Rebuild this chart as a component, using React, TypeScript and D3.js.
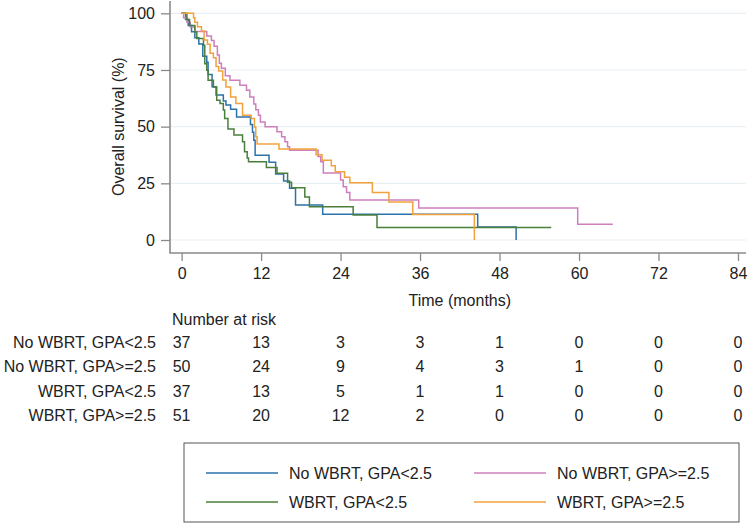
import * as d3 from "d3";
import { useEffect, useRef } from "react";

type Step = [number, number];

// Kaplan-Meier steps: [months, survival %], value holds from that time on
const noWbrtLow: Step[] = [
  [0, 100], [0.6, 97.3], [1.0, 94.6], [1.5, 91.9], [2.0, 89.2], [2.6, 86.5],
  [3.2, 81.1], [3.8, 78.4], [4.0, 73.0], [4.6, 67.6], [5.2, 64.0], [6.3, 61.3],
  [6.7, 59.5], [7.4, 57.7], [8.3, 54.3], [10.4, 51.0], [10.7, 47.5], [10.9, 44.0],
  [11.1, 37.4], [13.2, 34.3], [14.2, 29.1], [15.4, 26.0], [16.3, 22.8], [17.2, 15.4],
  [21.3, 11.4], [44.7, 5.7], [50.5, 0],
];
const noWbrtHigh: Step[] = [
  [0, 100], [0.3, 98], [0.8, 96], [1.3, 94], [2.0, 92], [3.8, 90], [4.5, 88],
  [4.9, 85.5], [5.4, 81.6], [5.7, 78], [6.0, 75.8], [6.6, 72.5], [7.3, 70.5],
  [8.8, 68.3], [9.8, 66.1], [10.3, 63.1], [10.9, 60], [11.2, 57.5], [11.6, 55],
  [11.9, 52.1], [12.6, 50.0], [14.4, 47.7], [15.1, 45.5], [15.6, 43.3], [16.0, 41.1],
  [16.3, 39.6], [20.6, 36.8], [21.0, 34.5], [21.4, 29.6], [24.0, 26.5], [24.4, 23.5],
  [24.9, 21.0], [25.4, 17.6], [35.8, 14.1], [59.8, 7.0], [65.1, 7.0],
];
const wbrtLow: Step[] = [
  [0, 100], [0.8, 97.3], [1.2, 94.6], [2.0, 91.8], [2.3, 88.9], [3.3, 85.9],
  [3.5, 77.8], [3.8, 74.9], [4.0, 70.5], [4.8, 67.5], [5.3, 61.7], [5.8, 60.2],
  [6.3, 57.3], [6.5, 53.6], [7.0, 49.0], [7.9, 46.3], [9.2, 43.3], [9.5, 38.9],
  [9.9, 36.2], [10.1, 34.5], [12.8, 32.0], [14.4, 29.4], [16.0, 25.5], [16.6, 23.0],
  [18.6, 19.0], [19.3, 14.7], [25.9, 11.0], [29.5, 5.5], [55.8, 5.5],
];
const wbrtHigh: Step[] = [
  [0, 100], [1.8, 98.0], [2.0, 96.1], [2.4, 94.1], [3.0, 92.2], [3.4, 88.2],
  [3.9, 86.3], [4.3, 82.4], [4.8, 80.4], [5.2, 76.5], [5.6, 74.5], [6.2, 70.6],
  [6.7, 67.5], [7.4, 63.1], [8.2, 60.2], [9.2, 55.0], [10.5, 53.6], [11.0, 49.9],
  [11.2, 45.5], [11.4, 42.3], [14.7, 40.1], [20.3, 37.6], [21.2, 35.2], [22.6, 32.7],
  [23.2, 30.1], [24.6, 27.7], [25.4, 25.2], [28.8, 21.0], [31.3, 16.8], [34.9, 11.2],
  [44.2, 0],
];

const seriesLabels = [
  "No WBRT, GPA<2.5",
  "No WBRT, GPA>=2.5",
  "WBRT, GPA<2.5",
  "WBRT, GPA>=2.5",
];
const seriesColors = ["#2b72ab", "#cd7fbd", "#4a7f3b", "#f0a23c"];
const seriesData = [noWbrtLow, noWbrtHigh, wbrtLow, wbrtHigh];

const yTicks = [0, 25, 50, 75, 100];
const xTicks = [0, 12, 24, 36, 48, 60, 72, 84];

// number at risk at each x tick
const riskNoWbrtLow = [37, 13, 3, 3, 1, 0, 0, 0];
const riskNoWbrtHigh = [50, 24, 9, 4, 3, 1, 0, 0];
const riskWbrtLow = [37, 13, 5, 1, 1, 0, 0, 0];
const riskWbrtHigh = [51, 20, 12, 2, 0, 0, 0, 0];
const riskRows = [riskNoWbrtLow, riskNoWbrtHigh, riskWbrtLow, riskWbrtHigh];

export default function App() {
  const svgRef = useRef<SVGSVGElement>(null);

  useEffect(() => {
    if (!svgRef.current) return;
    const svg = d3.select(svgRef.current);
    svg.selectAll("*").remove();

    const font = "'Liberation Sans', Arial, Helvetica, sans-serif";
    const textColor = "#222";
    const axisColor = "#8a8a8a";
    const fs = 16;

    const x = d3.scaleLinear().domain([0, 84]).range([181.6, 738]);
    const y = d3.scaleLinear().domain([0, 100]).range([240, 13.3]);

    const plotLeft = 170;
    const plotRight = 746;
    const plotTop = 1;
    const plotBottom = 253;

    svg.append("rect").attr("width", 751).attr("height", 526).attr("fill", "#fff");

    // Gridlines
    svg
      .append("g")
      .selectAll("line")
      .data(yTicks)
      .join("line")
      .attr("x1", plotLeft + 1)
      .attr("x2", plotRight)
      .attr("y1", (d) => y(d))
      .attr("y2", (d) => y(d))
      .attr("stroke", "#e9f0f3")
      .attr("stroke-width", 1.2);

    // Y axis
    const gy = svg
      .append("g")
      .attr("transform", `translate(${plotLeft},0)`)
      .call(d3.axisLeft(y).tickValues(yTicks).tickSize(9).tickPadding(6).tickSizeOuter(0));
    gy.select(".domain").remove();
    gy.selectAll("line").attr("stroke", axisColor).attr("stroke-width", 1.3);
    gy.selectAll("text")
      .attr("fill", textColor)
      .attr("font-size", fs)
      .attr("font-family", font);

    // X axis
    const gx = svg
      .append("g")
      .attr("transform", `translate(0,${plotBottom})`)
      .call(d3.axisBottom(x).tickValues(xTicks).tickSize(8).tickPadding(7).tickSizeOuter(0));
    gx.select(".domain").remove();
    gx.selectAll("line").attr("stroke", axisColor).attr("stroke-width", 1.3);
    gx.selectAll("text")
      .attr("fill", textColor)
      .attr("font-size", fs)
      .attr("font-family", font);

    // Axis lines
    svg
      .append("path")
      .attr("d", `M${plotLeft},${plotTop}V${plotBottom}H${plotRight}`)
      .attr("fill", "none")
      .attr("stroke", axisColor)
      .attr("stroke-width", 1.6);

    // Axis titles
    svg
      .append("text")
      .attr("transform", `translate(124,${(y(0) + y(100)) / 2}) rotate(-90)`)
      .attr("text-anchor", "middle")
      .attr("fill", textColor)
      .attr("font-size", fs)
      .attr("font-family", font)
      .text("Overall survival (%)");

    svg
      .append("text")
      .attr("x", (x(0) + x(84)) / 2)
      .attr("y", 306)
      .attr("text-anchor", "middle")
      .attr("fill", textColor)
      .attr("font-size", fs)
      .attr("font-family", font)
      .text("Time (months)");

    // Survival curves
    const line = d3
      .line<Step>()
      .x((d) => x(d[0]))
      .y((d) => y(d[1]))
      .curve(d3.curveStepAfter);

    seriesData.forEach((data, i) => {
      svg
        .append("path")
        .datum(data)
        .attr("fill", "none")
        .attr("stroke", seriesColors[i])
        .attr("stroke-width", 1.5)
        .attr("d", line);
    });

    // Number at risk table
    svg
      .append("text")
      .attr("x", 172)
      .attr("y", 325)
      .attr("fill", textColor)
      .attr("font-size", fs)
      .attr("font-family", font)
      .text("Number at risk");

    const rowY = [348, 372, 397, 421];
    riskRows.forEach((row, r) => {
      svg
        .append("text")
        .attr("x", 156)
        .attr("y", rowY[r])
        .attr("text-anchor", "end")
        .attr("fill", textColor)
        .attr("font-size", fs)
        .attr("font-family", font)
        .text(seriesLabels[r]);
      svg
        .append("g")
        .selectAll("text")
        .data(row)
        .join("text")
        .attr("x", (_, j) => x(xTicks[j]))
        .attr("y", rowY[r])
        .attr("text-anchor", "middle")
        .attr("fill", textColor)
        .attr("font-size", fs)
        .attr("font-family", font)
        .text((d) => String(d));
    });

    // Legend
    const legend = svg.append("g");
    legend
      .append("rect")
      .attr("x", 184)
      .attr("y", 443)
      .attr("width", 555)
      .attr("height", 79)
      .attr("fill", "#fff")
      .attr("stroke", "#555")
      .attr("stroke-width", 1);

    const legendPos = [
      { lx: 206, ly: 473 },
      { lx: 474, ly: 473 },
      { lx: 206, ly: 502 },
      { lx: 474, ly: 502 },
    ];
    seriesLabels.forEach((label, i) => {
      const p = legendPos[i];
      legend
        .append("line")
        .attr("x1", p.lx)
        .attr("x2", p.lx + 72)
        .attr("y1", p.ly)
        .attr("y2", p.ly)
        .attr("stroke", seriesColors[i])
        .attr("stroke-width", 1.5);
      legend
        .append("text")
        .attr("x", p.lx + 83)
        .attr("y", p.ly + 6)
        .attr("fill", textColor)
        .attr("font-size", fs)
        .attr("font-family", font)
        .text(label);
    });
  }, []);

  return (
    <svg
      ref={svgRef}
      width={751}
      height={526}
      style={{ position: "absolute", left: 0, top: 0 }}
    />
  );
}
